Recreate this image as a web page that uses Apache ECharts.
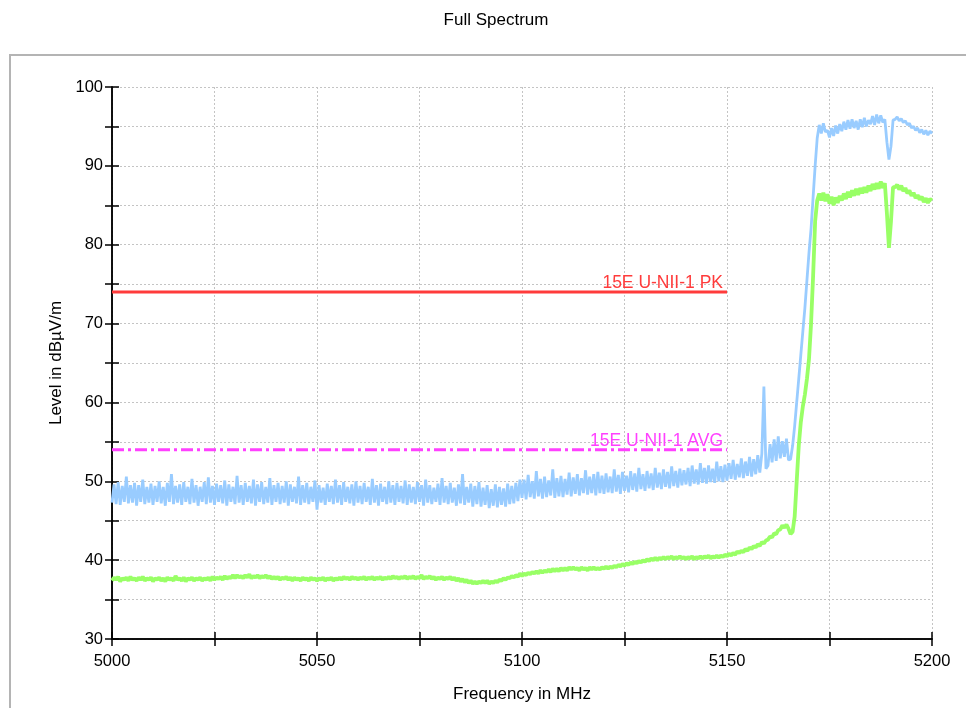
<!DOCTYPE html>
<html>
<head>
<meta charset="utf-8">
<script src="https://cdn.jsdelivr.net/npm/echarts@6/dist/echarts.min.js"></script>
<style>
html,body{margin:0;padding:0;background:#fff;}
#chart{width:966px;height:708px;}
</style>
</head>
<body>
<div id="chart"></div>
<script>
// ---- data ----
const freqStart = 5000;   // MHz
const freqStep = 0.5;     // MHz between readings
// Peak trace (light blue), dBµV/m, one reading per 0.5 MHz from 5000 to 5200
const peakTrace = [
47.3,49.6,47.1,49.9,47.0,49.4,47.4,50.6,47.2,49.5,47.3,49.8,46.9,49.5,47.4,50.2,47.1,49.3,47.3,49.7,
47.0,49.4,47.4,50.0,47.2,49.3,46.9,49.8,47.4,50.9,47.1,49.4,47.3,49.6,47.0,49.9,47.4,49.3,47.1,50.3,
47.3,49.5,46.9,49.3,47.4,49.9,47.1,50.5,47.3,49.4,47.0,49.7,47.4,49.5,47.2,50.1,46.9,49.6,47.4,49.3,
47.1,50.7,47.3,49.5,47.0,49.8,47.4,49.4,47.2,50.2,46.9,49.6,47.4,49.9,47.1,49.3,47.3,50.4,47.0,49.5,
47.4,49.8,47.1,49.4,47.3,50.0,46.9,49.6,47.4,49.3,47.2,50.6,47.0,49.5,47.3,49.8,47.1,49.3,47.4,50.1,
46.4,49.5,47.3,49.2,47.0,49.7,47.4,49.4,47.1,50.2,47.3,49.5,47.0,49.9,47.4,49.3,47.2,49.6,46.9,50.0,
47.3,49.4,47.1,49.8,47.4,49.3,47.0,50.3,47.3,49.5,46.9,49.7,47.4,49.3,47.1,50.0,47.3,49.5,47.0,49.8,
47.4,49.4,47.2,50.1,47.0,49.6,47.3,49.3,47.1,49.9,47.4,49.5,46.9,50.2,47.3,49.5,47.1,49.2,47.4,49.7,
47.0,50.4,47.3,49.4,47.1,49.8,47.3,49.2,46.9,49.6,47.2,50.9,47.0,49.3,47.3,49.7,46.8,49.4,47.1,49.9,
46.8,49.2,47.0,49.5,46.6,49.0,46.9,49.6,46.7,49.3,47.0,49.1,46.8,49.7,47.1,49.4,47.2,49.8,47.5,50.2,
47.9,50.2,47.7,50.8,48.0,50.0,47.8,51.3,48.1,50.3,47.8,50.6,48.0,50.1,48.2,51.5,47.9,50.4,48.1,50.7,
48.0,50.3,48.3,51.1,48.1,50.5,48.4,50.9,48.2,50.4,48.5,51.4,48.3,50.6,48.5,50.9,48.2,51.2,48.5,50.7,
48.4,51.0,48.6,50.6,48.5,51.5,48.7,50.8,48.4,51.2,48.8,50.7,48.6,51.3,48.9,51.0,48.7,51.7,49.0,50.9,
48.8,51.3,49.1,51.0,48.9,51.7,49.2,51.1,49.0,51.5,49.3,51.2,49.1,51.9,49.4,51.3,49.2,51.6,49.5,51.4,
49.6,51.7,49.4,52.0,49.7,51.5,49.6,52.3,49.8,51.7,49.7,52.0,49.9,51.6,49.8,52.5,50.0,51.9,49.9,52.1,
50.1,52.3,50.3,52.7,50.2,52.2,50.5,52.9,50.4,52.5,50.7,53.1,50.6,52.8,50.9,53.3,51.1,53.5,62.0,51.6,
52.0,54.7,52.4,55.3,52.6,55.7,52.9,55.1,53.1,55.4,52.7,52.8,54.5,57.0,60.0,63.0,66.0,69.0,72.0,75.5,
79.0,82.0,86.0,90.0,93.5,95.2,94.1,95.4,94.3,94.5,93.6,94.8,93.8,95.1,94.1,95.3,94.4,95.6,94.6,95.8,
94.7,95.9,94.8,95.7,94.6,95.9,94.9,96.1,95.0,95.8,95.3,96.3,95.2,96.5,95.4,96.4,95.5,95.9,93.0,90.8,
92.5,95.8,95.9,96.2,95.7,96.0,95.5,95.7,95.2,95.4,94.8,95.0,94.5,94.8,94.2,94.6,94.0,94.5,93.9,94.4,
94.1
];
// Average trace (light green), dBµV/m
const avgTrace = [
37.4,37.8,37.5,37.9,37.3,37.7,37.5,37.8,37.4,37.9,37.5,37.7,37.4,37.8,37.5,37.9,37.4,37.7,37.5,37.8,
37.3,37.7,37.5,37.8,37.4,37.7,37.3,37.8,37.5,37.7,37.4,38.0,37.5,37.7,37.4,37.8,37.3,37.7,37.5,37.8,
37.4,37.7,37.5,37.8,37.4,37.7,37.5,37.8,37.4,37.9,37.5,37.8,37.6,37.9,37.5,38.0,37.6,37.9,37.7,38.1,
37.7,38.1,37.8,38.0,37.7,38.1,37.8,38.2,37.7,38.0,37.8,38.1,37.7,38.0,37.8,38.1,37.7,38.0,37.6,37.9,
37.6,37.9,37.5,37.8,37.6,37.9,37.5,37.8,37.4,37.8,37.5,37.7,37.4,37.8,37.5,37.7,37.4,37.8,37.5,37.7,
37.4,37.7,37.5,37.8,37.4,37.7,37.5,37.8,37.4,37.7,37.5,37.8,37.5,37.9,37.6,37.8,37.5,37.9,37.6,37.8,
37.5,37.8,37.6,37.9,37.5,37.8,37.6,37.9,37.5,37.8,37.6,37.9,37.5,37.8,37.6,37.9,37.6,38.0,37.7,37.9,
37.6,37.9,37.7,38.0,37.6,37.9,37.7,38.0,37.6,37.9,37.7,38.1,37.6,37.9,37.7,38.0,37.6,37.9,37.5,37.8,
37.6,37.9,37.5,37.8,37.6,37.9,37.5,37.8,37.4,37.7,37.3,37.6,37.2,37.5,37.1,37.4,37.0,37.3,37.0,37.3,
37.1,37.4,37.1,37.4,37.0,37.3,37.1,37.4,37.2,37.5,37.4,37.7,37.5,37.8,37.7,38.0,37.8,38.1,37.9,38.3,
38.0,38.3,38.1,38.4,38.2,38.5,38.3,38.6,38.3,38.7,38.4,38.7,38.5,38.8,38.5,38.9,38.6,38.9,38.6,39.0,
38.7,39.0,38.7,39.1,38.8,39.1,38.8,39.0,38.7,39.1,38.8,39.0,38.7,39.1,38.8,39.1,38.8,39.0,38.8,39.1,
38.9,39.2,38.9,39.2,39.0,39.3,39.1,39.4,39.2,39.5,39.3,39.6,39.4,39.7,39.5,39.8,39.6,39.9,39.7,40.0,
39.8,40.1,39.9,40.2,40.0,40.3,40.0,40.3,40.1,40.4,40.1,40.4,40.2,40.5,40.1,40.4,40.2,40.5,40.2,40.4,
40.1,40.4,40.2,40.5,40.1,40.4,40.2,40.5,40.2,40.5,40.3,40.6,40.2,40.5,40.3,40.6,40.3,40.6,40.4,40.7,
40.5,40.8,40.6,40.9,40.7,41.1,40.9,41.2,41.0,41.4,41.2,41.6,41.4,41.8,41.6,42.0,41.8,42.3,42.1,42.5,
42.6,43.0,42.9,43.4,43.3,43.8,43.9,44.4,44.1,44.5,44.0,43.3,43.6,45.5,50.0,54.5,57.5,59.5,61.0,63.0,
65.5,70.0,76.0,83.0,85.6,86.5,85.6,86.6,85.5,86.4,85.2,86.1,85.0,86.0,85.3,86.2,85.6,86.5,85.8,86.7,
86.0,86.9,86.2,87.1,86.3,87.2,86.5,87.3,86.6,87.5,86.8,87.7,87.0,87.8,87.1,88.0,87.2,87.8,84.0,79.6,
83.0,87.3,87.3,87.6,87.0,87.5,86.8,87.2,86.5,86.9,86.2,86.6,85.9,86.3,85.7,86.1,85.4,85.9,85.3,85.8,
85.6
];
// Limit lines
const limitNames = ['15E U-NII-1 PK', '15E U-NII-1 AVG'];
const limitLevels = [74, 54];
const limitFreqs = [5000, 5150];
// Axes
const xTicks = [5000, 5050, 5100, 5150, 5200];
const yTicks = [30, 40, 50, 60, 70, 80, 90, 100];
const titleText = 'Full Spectrum';
const xName = 'Frequency in MHz';
const yName = 'Level in dBµV/m';

// ---- build ----
const toPairs = arr => arr.map((v, i) => [freqStart + i * freqStep, v]);
const FONT = '"Liberation Sans", Arial, sans-serif';
const chart = echarts.init(document.getElementById('chart'), null, {renderer: 'canvas'});

const gridLine = {show: true, lineStyle: {color: '#c4c4c4', width: 1, type: [2, 2]}};
const axisLineBlack = {show: true, onZero: false, lineStyle: {color: '#000', width: 1.5}};

function xAxisDef(inside, labels) {
  return {
    type: 'value', min: 5000, max: 5200, interval: 25, position: 'bottom',
    axisLine: axisLineBlack,
    axisTick: {show: true, inside: inside, length: 7, lineStyle: {color: '#000', width: 1.5}},
    axisLabel: labels ? {
      show: true, margin: 14, color: '#000', fontSize: 16.5, fontFamily: FONT,
      formatter: v => xTicks.includes(v) ? String(v) : ''
    } : {show: false},
    splitLine: labels ? gridLine : {show: false},
    name: labels ? xName : '', nameLocation: 'middle', nameGap: 47,
    nameTextStyle: {color: '#000', fontSize: 17, fontFamily: FONT}
  };
}
function yAxisDef(inside, labels) {
  return {
    type: 'value', min: 30, max: 100, interval: 5, position: 'left',
    axisLine: axisLineBlack,
    axisTick: {show: true, inside: inside, length: 7, lineStyle: {color: '#000', width: 1.5}},
    axisLabel: labels ? {
      show: true, margin: 9, color: '#000', fontSize: 16.5, fontFamily: FONT,
      formatter: v => yTicks.includes(v) ? String(v) : ''
    } : {show: false},
    splitLine: labels ? gridLine : {show: false},
    name: labels ? yName : '', nameLocation: 'middle', nameGap: 47, nameRotate: 90,
    nameTextStyle: {color: '#000', fontSize: 17, fontFamily: FONT}
  };
}

const limitColors = ['#ff3b3b', '#ff40ff'];
const limitDash = ['solid', [12, 4, 3, 4]];
const limitSeries = limitNames.map((name, k) => ({
  name: name, type: 'line', xAxisIndex: 0, yAxisIndex: 0,
  data: limitFreqs.map(f => [f, limitLevels[k]]),
  showSymbol: false, symbol: 'none',
  lineStyle: {color: limitColors[k], width: 3, type: limitDash[k]},
  markPoint: {
    symbol: 'rect', symbolSize: 0, silent: true, animation: false,
    data: [{coord: [limitFreqs[limitFreqs.length - 1], limitLevels[k]]}],
    label: {
      show: true, position: 'top', align: 'right', distance: 1, offset: [-4, 1],
      formatter: name, color: limitColors[k], fontSize: 17.5, fontFamily: FONT
    }
  },
  z: 4
}));

chart.setOption({
  animation: false,
  backgroundColor: '#fff',
  title: {
    text: titleText, left: 491, top: 7, textAlign: 'center',
    textStyle: {color: '#000', fontSize: 17, fontWeight: 'normal', fontFamily: FONT}
  },
  graphic: [{
    type: 'rect', shape: {x: 10, y: 55, width: 970, height: 660},
    style: {fill: 'none', stroke: '#b4b4b4', lineWidth: 2}, silent: true, z: -10
  }],
  grid: {left: 112, right: 34, top: 87, bottom: 68, containLabel: false},
  xAxis: [xAxisDef(false, true), xAxisDef(true, false)],
  yAxis: [yAxisDef(false, true), yAxisDef(true, false)],
  series: [
    {
      name: 'Average', type: 'line', xAxisIndex: 0, yAxisIndex: 0,
      data: toPairs(avgTrace), showSymbol: false, symbol: 'none',
      lineStyle: {color: '#99ff66', width: 3.8}, z: 2
    },
    {
      name: 'Peak', type: 'line', xAxisIndex: 0, yAxisIndex: 0,
      data: toPairs(peakTrace), showSymbol: false, symbol: 'none',
      lineStyle: {color: '#99ccff', width: 2.8}, z: 3
    },
    ...limitSeries
  ]
});
</script>
</body>
</html>
